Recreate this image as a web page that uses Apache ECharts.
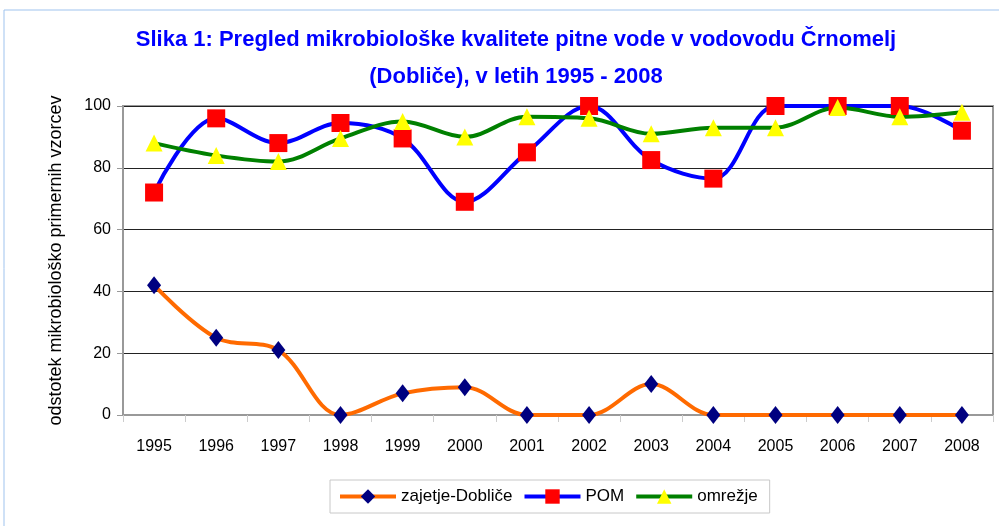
<!DOCTYPE html>
<html>
<head>
<meta charset="utf-8">
<script src="https://cdn.jsdelivr.net/npm/echarts@6/dist/echarts.min.js"></script>
<style>
    html, body { margin: 0; padding: 0; background: #fff; }
    #chart { width: 999px; height: 526px; }
</style>
</head>
<body>
<div id="chart"></div>
<script type="text/javascript">
    // podatki odčitani s slike
    var years = ['1995', '1996', '1997', '1998', '1999', '2000', '2001', '2002', '2003', '2004', '2005', '2006', '2007', '2008'];
    var zajetje = [42, 25, 21, 0, 7, 9, 0, 0, 10, 0, 0, 0, 0, 0];
    var pom = [72, 96, 88, 94.5, 89.5, 69, 85, 100, 82.5, 76.5, 100, 100, 100, 92];
    var omrezje = [88, 84, 82, 89.5, 95, 90, 96.5, 96, 91, 93, 93, 99.5, 96.5, 98];

    var myChart = echarts.init(document.getElementById('chart'));

    var option = {
        animation: false,
        textStyle: { fontFamily: 'Liberation Sans, Arial, sans-serif' },
        graphic: [
            {
                type: 'rect',
                shape: { x: 4, y: 10, width: 1000, height: 530 },
                style: { fill: 'none', stroke: '#9fc3ee', lineWidth: 1 }
            }
        ],
        title: {
            text: 'Slika 1: Pregled mikrobiološke kvalitete pitne vode v vodovodu Črnomelj\n(Dobliče), v letih 1995 - 2008',
            left: 511,
            top: 16,
            textAlign: 'center',
            textStyle: {
                color: '#0000ff',
                fontSize: 22,
                fontWeight: 'bold',
                lineHeight: 37
            }
        },
        legend: {
            left: 330,
            top: 480,
            padding: [8, 12, 8, 8],
            borderColor: '#c8c8c8',
            borderWidth: 1,
            itemWidth: 56,
            itemHeight: 18,
            itemGap: 10,
            lineStyle: { width: 4 },
            textStyle: { fontSize: 17, color: '#000' },
            data: ['zajetje-Dobliče', 'POM', 'omrežje']
        },
        grid: {
            left: 123,
            right: 6,
            top: 106,
            bottom: 111,
            show: true,
            borderColor: '#999',
            borderWidth: 2,
            containLabel: false
        },
        xAxis: {
            type: 'category',
            boundaryGap: true,
            data: years,
            axisLine: { lineStyle: { color: '#999', width: 2 } },
            axisTick: { show: true, alignWithLabel: false, length: 7, lineStyle: { color: '#ccc' } },
            axisLabel: { fontSize: 16, color: '#000', margin: 24 }
        },
        yAxis: {
            type: 'value',
            min: 0,
            max: 100,
            interval: 20,
            name: 'odstotek mikrobiološko primernih vzorcev',
            nameLocation: 'middle',
            nameGap: 58,
            nameTextStyle: { fontSize: 18, color: '#000' },
            axisLine: { show: true, lineStyle: { color: '#999', width: 2 } },
            axisTick: { show: true, length: 6, lineStyle: { color: '#999' } },
            axisLabel: { fontSize: 16, color: '#000', margin: 12 },
            splitLine: { lineStyle: { color: '#222', width: 1 } }
        },
        series: [
            {
                name: 'zajetje-Dobliče',
                type: 'line',
                smooth: 0.35,
                data: zajetje,
                symbol: 'diamond',
                symbolSize: [14, 18],
                lineStyle: { color: '#ff6a00', width: 4 },
                itemStyle: { color: '#000080' }
            },
            {
                name: 'POM',
                type: 'line',
                smooth: 0.35,
                data: pom,
                symbol: 'rect',
                symbolSize: 18,
                lineStyle: { color: '#0000ff', width: 4 },
                itemStyle: { color: '#ff0000' }
            },
            {
                name: 'omrežje',
                type: 'line',
                smooth: 0.35,
                data: omrezje,
                symbol: 'triangle',
                symbolSize: 17,
                lineStyle: { color: '#008000', width: 4 },
                itemStyle: { color: '#ffff00' }
            }
        ]
    };

    myChart.setOption(option);
</script>
</body>
</html>
